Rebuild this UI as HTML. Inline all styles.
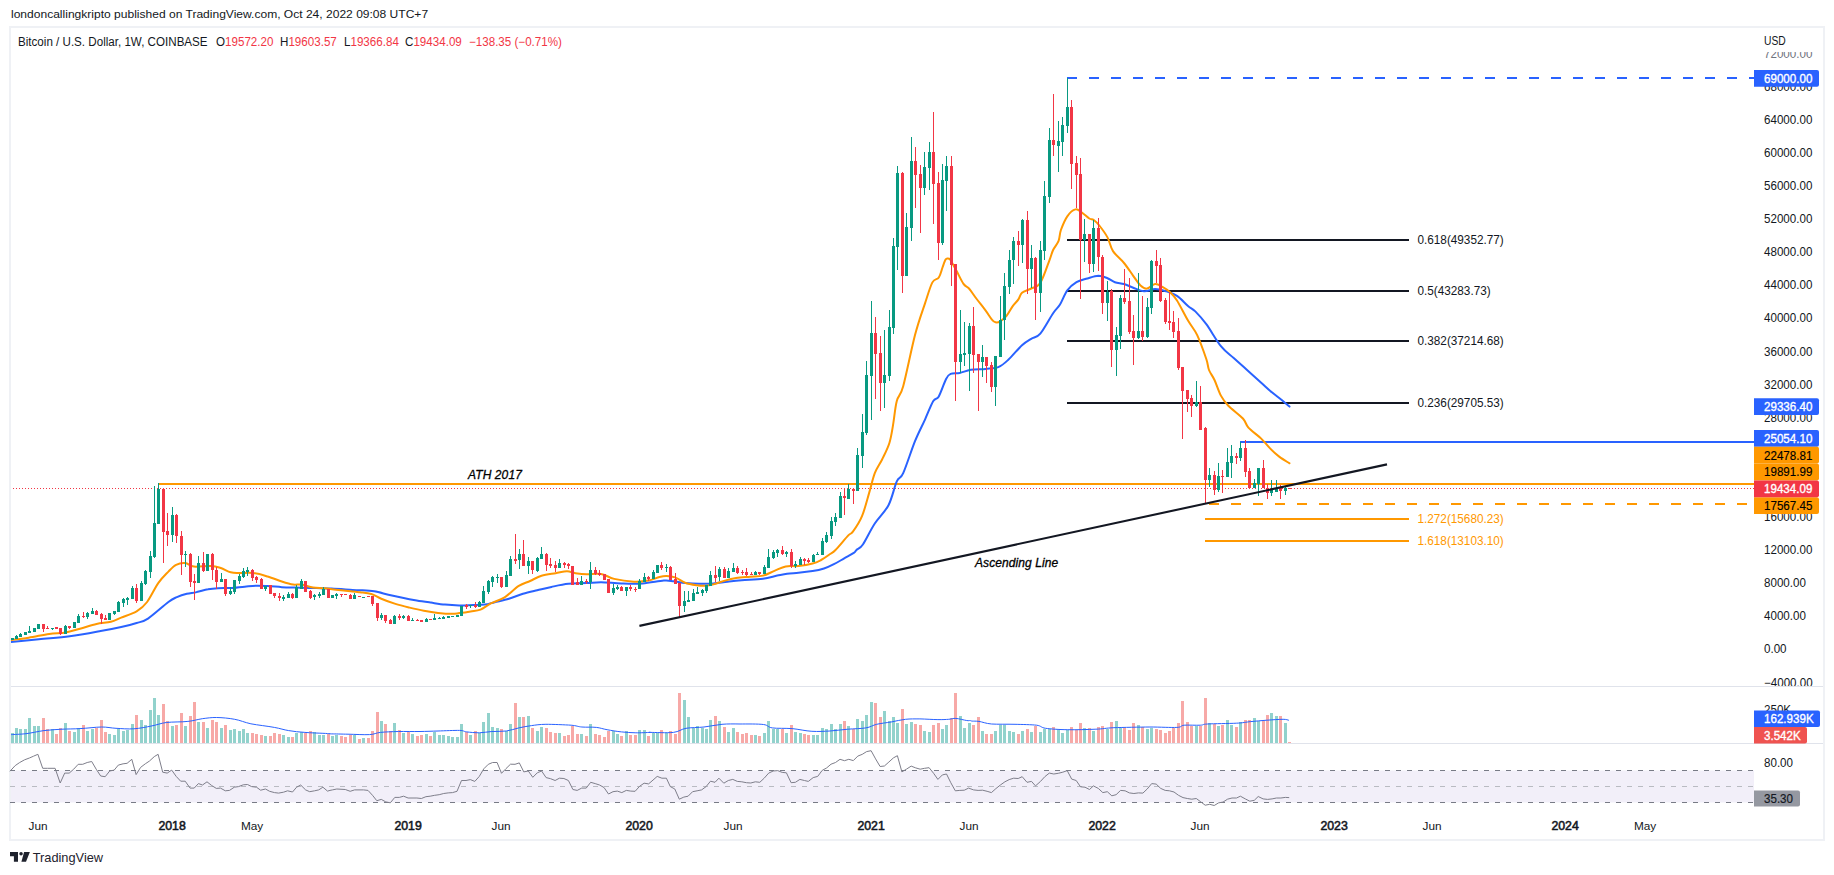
<!DOCTYPE html>
<html><head><meta charset="utf-8"><title>BTCUSD chart</title>
<style>
html,body{margin:0;padding:0;background:#fff;}
body{width:1834px;height:875px;position:relative;overflow:hidden;font-family:'Liberation Sans', Arial, sans-serif;}
.t{position:absolute;white-space:pre;color:#131722;line-height:1;}
#frame{position:absolute;left:9px;top:26px;width:1812px;height:811px;border:2px solid #eff1f5;}
</style></head><body>
<div id="frame"></div>
<div class="t" id="pub" style="left:10.6px;top:9.0px;font-size:11px;transform:scaleX(1.0945);transform-origin:0 0">londoncallingkripto published on TradingView.com, Oct 24, 2022 09:08 UTC+7</div>
<div class="t" id="ttl" style="left:18.3px;top:35.6px;font-size:12px;transform:scaleX(0.967);transform-origin:0 0">Bitcoin / U.S. Dollar, 1W, COINBASE</div>
<div class="t" style="left:216.2px;top:35.6px;font-size:12px;transform:scaleX(0.967);transform-origin:0 0">O<span style="color:#f23645">19572.20</span></div>
<div class="t" style="left:280.2px;top:35.6px;font-size:12px;transform:scaleX(0.967);transform-origin:0 0">H<span style="color:#f23645">19603.57</span></div>
<div class="t" style="left:344px;top:35.6px;font-size:12px;transform:scaleX(0.967);transform-origin:0 0">L<span style="color:#f23645">19366.84</span></div>
<div class="t" style="left:405.3px;top:35.6px;font-size:12px;transform:scaleX(0.967);transform-origin:0 0">C<span style="color:#f23645">19434.09</span></div>
<div class="t" style="left:468.8px;top:35.6px;font-size:12px;transform:scaleX(0.967);transform-origin:0 0;color:#f23645">−138.35 (−0.71%)</div>
<svg width="1834" height="875" viewBox="0 0 1834 875" font-family="'Liberation Sans', Arial, sans-serif" style="position:absolute;left:0;top:0"><rect x="11" y="770.5" width="1743" height="32" fill="#f2eff9"/>
<path d="M10 770.5H1754M10 802.5H1754" stroke="#787b86" stroke-width="1" stroke-dasharray="5 6" fill="none" shape-rendering="crispEdges"/>
<path d="M10 786.5H1754" stroke="#b9bbc2" stroke-width="1" stroke-dasharray="5 6" fill="none" shape-rendering="crispEdges"/>
<path d="M11 686.5H1823M11 743.5H1823" stroke="#e0e3eb" stroke-width="1" fill="none" shape-rendering="crispEdges"/>
<path d="M11 488.5H1754" stroke="#f23645" stroke-width="1" stroke-dasharray="1 2" stroke-dashoffset="1" fill="none" shape-rendering="crispEdges"/>
<path d="M1067 240H1409" stroke="#131722" stroke-width="2" fill="none" shape-rendering="crispEdges"/>
<path d="M1067 291H1409" stroke="#131722" stroke-width="2" fill="none" shape-rendering="crispEdges"/>
<path d="M1067 341H1409" stroke="#131722" stroke-width="2" fill="none" shape-rendering="crispEdges"/>
<path d="M1067 403H1409" stroke="#131722" stroke-width="2" fill="none" shape-rendering="crispEdges"/>
<path d="M1204.5 519H1409" stroke="#ff9800" stroke-width="2" fill="none" shape-rendering="crispEdges"/>
<path d="M1204.5 541H1409" stroke="#ff9800" stroke-width="2" fill="none" shape-rendering="crispEdges"/>
<path d="M158 484H1754" stroke="#ff9800" stroke-width="2" fill="none" shape-rendering="crispEdges"/>
<path d="M1209 504H1754" stroke="#ff9800" stroke-width="2" stroke-dasharray="10 12" fill="none" shape-rendering="crispEdges"/>
<path d="M1240 442H1754" stroke="#2962ff" stroke-width="2" fill="none" shape-rendering="crispEdges"/>
<path d="M1067 78H1754" stroke="#2962ff" stroke-width="2" stroke-dasharray="10 12" fill="none" shape-rendering="crispEdges"/>
<clipPath id="cpc"><rect x="11" y="28" width="1742" height="784"/></clipPath><g clip-path="url(#cpc)">
<path d="M10.0 642.0C14.8 641.5 28.9 640.2 38.9 639.2C48.9 638.2 59.4 637.7 69.7 636.3C80.0 634.9 92.0 632.6 100.6 631.0C109.2 629.4 115.2 628.2 121.2 626.9C127.2 625.6 132.1 624.4 136.6 623.0C141.1 621.6 142.7 622.1 148.0 618.6C153.3 615.1 163.6 605.6 168.4 602.0C173.2 598.4 173.8 598.5 176.9 597.1C180.0 595.7 183.5 594.6 186.8 593.8C190.1 593.0 193.2 592.9 196.7 592.1C200.2 591.4 204.4 589.9 208.0 589.3C211.6 588.6 214.0 588.4 218.0 588.2C222.0 588.0 227.4 588.2 232.1 587.9C236.8 587.6 242.3 586.9 246.3 586.5C250.3 586.1 252.6 585.8 256.2 585.7C259.8 585.6 263.3 585.8 267.6 586.0C271.9 586.2 277.1 586.9 281.8 587.2C286.5 587.5 291.3 587.5 296.0 587.6C300.7 587.7 304.1 587.7 310.0 587.9C315.9 588.1 324.3 588.2 331.4 588.6C338.5 589.0 347.8 589.7 352.6 590.0C357.4 590.3 356.4 590.0 360.0 590.2C363.6 590.4 369.5 590.5 374.2 591.3C378.9 592.0 383.7 593.6 388.4 594.7C393.1 595.8 397.8 596.8 402.5 597.7C407.2 598.7 412.0 599.6 416.7 600.4C421.4 601.2 426.2 601.9 430.9 602.6C435.6 603.3 440.3 604.1 445.0 604.6C449.7 605.1 454.5 605.4 459.2 605.5C463.9 605.6 469.1 605.2 473.4 605.1C477.7 605.0 481.2 605.1 484.8 604.6C488.4 604.1 490.7 603.2 494.7 602.2C498.7 601.2 504.2 600.1 508.9 598.7C513.6 597.3 518.3 595.1 523.0 593.7C527.7 592.3 532.5 591.3 537.2 590.2C541.9 589.1 546.2 588.0 551.4 586.9C556.6 585.8 562.5 584.4 568.4 583.8C574.3 583.2 581.4 583.4 586.8 583.1C592.2 582.8 595.2 582.2 601.0 582.2C606.8 582.2 614.4 583.2 621.3 583.4C628.2 583.6 635.4 583.9 642.5 583.4C649.6 582.9 658.6 581.0 663.8 580.6C669.0 580.2 670.2 580.9 673.7 581.3C677.2 581.7 680.9 582.7 685.1 583.1C689.4 583.5 694.5 583.8 699.2 583.8C703.9 583.8 708.7 583.8 713.4 583.4C718.1 583.0 722.9 582.2 727.6 581.7C732.3 581.2 735.9 580.8 741.8 580.3C747.7 579.8 757.1 579.5 763.0 578.7C768.9 577.9 773.2 576.4 777.2 575.6C781.2 574.8 783.6 574.2 787.1 573.7C790.6 573.2 794.2 573.2 798.5 572.8C802.8 572.4 808.4 571.8 812.6 571.1C816.9 570.4 820.5 569.6 824.0 568.5C827.5 567.4 830.6 565.9 833.9 564.2C837.2 562.6 840.5 560.5 843.8 558.6C847.1 556.7 851.7 554.3 853.8 552.9C855.9 551.5 855.0 551.4 856.5 550.0C858.0 548.6 859.9 548.9 862.9 544.5C865.9 540.1 870.5 530.0 874.8 523.5C879.1 517.0 884.8 512.2 888.5 505.2C892.2 498.2 894.3 486.7 896.8 481.4C899.2 476.1 900.2 479.9 903.2 473.2C906.2 466.5 911.4 450.2 915.0 441.2C918.6 432.2 922.1 426.0 925.1 419.3C928.1 412.6 931.0 404.8 933.3 401.0C935.6 397.2 936.7 400.1 938.8 396.4C940.9 392.7 944.1 382.8 946.1 379.0C948.1 375.2 948.4 374.9 950.7 373.9C953.0 372.9 956.4 373.7 959.8 373.0C963.1 372.3 966.5 370.5 970.8 369.8C975.1 369.1 980.9 369.3 985.5 368.9C990.1 368.4 994.5 368.6 998.3 367.1C1002.1 365.6 1004.3 363.5 1008.3 359.8C1012.2 356.1 1018.2 348.7 1022.0 345.2C1025.8 341.7 1028.2 340.7 1031.2 338.8C1034.2 336.9 1036.7 337.9 1040.3 333.6C1043.9 329.3 1049.8 318.1 1053.1 313.2C1056.4 308.3 1057.6 308.3 1060.0 304.5C1062.4 300.7 1064.5 294.1 1067.3 290.4C1070.0 286.7 1073.2 284.2 1076.5 282.2C1079.8 280.2 1083.8 279.6 1087.4 278.5C1091.1 277.4 1095.1 275.9 1098.4 275.8C1101.8 275.8 1104.8 277.1 1107.5 278.2C1110.2 279.3 1112.2 281.2 1114.9 282.2C1117.7 283.2 1121.0 283.1 1124.0 284.0C1127.0 284.9 1129.9 286.5 1133.2 287.7C1136.5 288.9 1140.4 291.1 1144.1 291.3C1147.8 291.5 1151.4 289.1 1155.1 289.1C1158.8 289.1 1162.4 290.2 1166.1 291.3C1169.8 292.4 1173.3 293.4 1177.0 295.9C1180.7 298.3 1185.0 303.4 1188.0 306.0C1191.0 308.6 1192.2 308.4 1195.3 311.4C1198.3 314.4 1202.0 318.4 1206.3 324.2C1210.6 330.0 1216.3 340.5 1220.9 346.2C1225.5 351.9 1229.4 354.2 1233.7 358.1C1238.0 362.0 1241.9 365.4 1246.5 369.5C1251.1 373.6 1257.2 379.2 1261.2 382.8C1265.2 386.4 1267.2 388.4 1270.3 391.0C1273.3 393.6 1276.3 395.7 1279.5 398.3C1282.7 400.9 1287.8 405.2 1289.5 406.6" stroke="#2962ff" stroke-width="2" fill="none" stroke-linejoin="round" stroke-linecap="round"/>
<path d="M10.0 640.2C13.1 639.8 22.1 638.8 28.6 637.7C35.1 636.7 43.0 634.8 49.2 633.9C55.4 633.0 60.5 633.4 65.6 632.5C70.7 631.6 74.8 630.1 80.0 628.7C85.2 627.3 91.3 625.2 96.5 624.0C101.7 622.8 106.8 622.8 110.9 621.7C115.0 620.6 116.9 619.3 121.2 617.6C125.5 615.9 132.3 614.0 136.6 611.4C140.9 608.8 143.5 606.8 147.1 602.0C150.7 597.2 154.8 588.0 158.4 582.9C162.0 577.8 165.5 574.6 168.4 571.6C171.3 568.6 173.3 566.2 176.1 564.8C178.9 563.4 182.4 562.8 185.4 563.1C188.4 563.4 189.7 566.1 193.9 566.6C198.2 567.1 206.4 565.7 210.9 565.9C215.4 566.1 217.5 566.9 220.8 568.0C224.1 569.1 227.6 571.5 230.7 572.3C233.8 573.1 235.4 572.9 239.2 573.0C243.0 573.1 248.7 572.4 253.4 573.0C258.1 573.6 262.9 575.1 267.6 576.5C272.3 577.9 277.6 580.1 281.8 581.5C286.1 582.9 289.8 584.1 293.1 584.6C296.4 585.1 298.3 584.1 301.6 584.6C304.9 585.1 309.2 586.8 313.0 587.4C316.8 588.0 320.1 587.9 324.3 588.3C328.6 588.7 333.8 589.5 338.5 590.0C343.2 590.5 349.0 591.0 352.6 591.4C356.2 591.8 356.9 591.9 360.0 592.3C363.1 592.7 367.8 592.9 371.3 594.0C374.9 595.1 377.3 597.1 381.3 598.7C385.3 600.4 390.7 602.4 395.4 603.9C400.1 605.4 404.9 606.5 409.6 607.6C414.3 608.7 419.1 609.8 423.8 610.7C428.5 611.6 433.3 612.4 438.0 612.9C442.7 613.4 448.6 613.8 452.1 613.8C455.6 613.8 456.1 613.5 459.2 613.1C462.3 612.7 467.1 612.0 470.6 611.4C474.2 610.8 477.2 610.9 480.5 609.6C483.8 608.3 486.4 605.7 490.4 603.6C494.4 601.5 499.9 600.2 504.6 597.3C509.3 594.3 514.5 588.6 518.8 585.9C523.0 583.2 526.3 582.7 530.1 581.0C533.9 579.3 537.2 577.0 541.5 575.7C545.8 574.4 551.4 573.9 555.6 573.2C559.9 572.5 563.7 571.3 567.0 571.3C570.3 571.3 572.2 572.7 575.5 573.2C578.8 573.7 582.5 574.2 586.8 574.3C591.0 574.4 596.4 573.1 601.0 573.9C605.6 574.7 608.7 577.6 614.2 578.9C619.7 580.2 628.3 581.4 634.0 581.7C639.7 582.0 644.0 581.4 648.2 580.6C652.5 579.8 656.4 577.8 659.5 577.0C662.6 576.2 664.0 575.9 666.6 576.0C669.2 576.1 672.0 576.3 675.1 577.4C678.2 578.5 681.6 581.4 685.1 582.7C688.6 584.0 693.1 584.7 696.4 585.2C699.7 585.7 702.1 585.9 704.9 585.8C707.7 585.7 710.1 585.3 713.4 584.4C716.7 583.5 721.0 581.7 724.8 580.6C728.6 579.5 731.9 578.6 736.1 578.0C740.4 577.4 745.8 577.1 750.3 576.7C754.8 576.3 759.0 576.6 763.0 575.6C767.0 574.6 770.6 572.4 774.4 570.9C778.2 569.4 781.7 567.2 785.7 566.4C789.7 565.6 794.0 566.5 798.5 566.0C803.0 565.5 808.8 564.5 812.6 563.5C816.4 562.5 818.2 561.5 821.1 560.0C824.0 558.5 827.3 556.0 829.7 554.3C832.1 552.6 832.4 553.1 835.5 550.0C838.6 546.9 845.4 538.4 848.3 535.4C851.2 532.4 850.6 534.9 852.9 531.7C855.2 528.5 859.3 522.8 862.0 516.2C864.7 509.7 867.2 499.6 869.3 492.4C871.4 485.2 872.7 478.7 874.8 473.2C876.9 467.7 879.7 464.5 882.1 459.5C884.5 454.5 887.6 448.8 889.4 443.0C891.2 437.2 891.9 431.7 893.1 424.7C894.3 417.7 895.1 407.4 896.8 401.0C898.5 394.6 900.2 397.3 903.2 386.3C906.2 375.3 911.4 349.0 915.0 335.1C918.6 321.2 922.2 311.9 925.1 303.1C928.0 294.3 930.1 286.7 932.4 282.4C934.7 278.1 937.1 280.0 938.8 277.5C940.5 275.0 941.4 270.5 942.5 267.5C943.6 264.5 944.7 261.1 945.6 259.6C946.5 258.1 947.1 258.6 947.9 258.6C948.7 258.6 949.4 258.6 950.2 259.6C951.1 260.6 952.0 262.7 953.0 264.5C954.0 266.3 954.5 267.0 956.2 270.2C958.0 273.4 961.4 280.8 963.5 283.9C965.6 286.9 966.9 286.1 969.0 288.5C971.1 290.9 973.5 294.9 976.3 298.5C979.0 302.1 982.9 306.9 985.5 310.4C988.1 313.9 990.2 317.6 991.9 319.6C993.6 321.6 994.1 322.0 995.5 322.3C996.9 322.6 998.3 322.5 1000.1 321.4C1001.9 320.3 1004.4 318.5 1006.5 315.9C1008.6 313.3 1010.9 308.6 1012.9 305.8C1014.9 303.1 1016.9 301.6 1018.4 299.4C1019.9 297.2 1019.9 294.5 1022.0 292.7C1024.1 290.9 1028.2 290.1 1031.2 288.5C1034.2 286.9 1037.2 287.7 1040.3 283.0C1043.3 278.3 1047.4 265.6 1049.5 260.1C1051.6 254.6 1051.6 253.2 1053.1 250.0C1054.6 246.8 1057.3 244.2 1058.6 240.9C1059.9 237.6 1059.5 234.1 1060.9 230.0C1062.4 225.9 1064.9 219.7 1067.3 216.3C1069.7 212.9 1073.1 210.0 1075.5 209.4C1077.9 208.8 1079.6 211.1 1081.9 212.6C1084.2 214.1 1087.3 217.3 1089.3 218.5C1091.3 219.7 1092.1 218.8 1093.8 220.0C1095.5 221.2 1097.0 222.6 1099.3 225.5C1101.6 228.4 1105.2 233.1 1107.5 237.4C1109.8 241.7 1110.2 246.8 1113.0 251.1C1115.8 255.4 1120.6 258.9 1124.0 263.0C1127.4 267.1 1130.5 272.1 1133.2 275.8C1136.0 279.6 1138.2 283.4 1140.5 285.5C1142.8 287.6 1144.5 288.9 1146.9 288.6C1149.3 288.4 1152.5 284.3 1155.1 284.0C1157.7 283.7 1160.0 285.5 1162.4 286.8C1164.8 288.1 1167.3 289.6 1169.7 291.9C1172.1 294.2 1174.0 295.7 1177.0 300.5C1180.0 305.3 1184.6 314.8 1188.0 320.6C1191.4 326.4 1194.2 328.8 1197.2 335.2C1200.2 341.6 1204.3 353.2 1206.3 359.0C1208.3 364.8 1207.6 366.5 1209.0 370.0C1210.4 373.5 1212.5 375.7 1214.5 380.0C1216.5 384.3 1218.6 391.3 1220.9 395.6C1223.2 399.9 1224.6 401.9 1228.3 405.7C1232.0 409.5 1239.6 414.9 1242.9 418.5C1246.2 422.1 1245.4 424.2 1248.4 427.6C1251.5 431.0 1257.6 435.1 1261.2 438.6C1264.8 442.1 1267.2 445.6 1270.3 448.6C1273.3 451.7 1276.3 454.4 1279.5 456.9C1282.7 459.3 1287.8 462.2 1289.5 463.3" stroke="#ff9800" stroke-width="2" fill="none" stroke-linejoin="round" stroke-linecap="round"/>
</g>
<path d="M12.5 638V640M16.5 635V639M20.5 633V637M25.5 632V635M29.5 626V633M34.5 628V632M38.5 624V629M52.5 628V630M65.5 625V634M74.5 622V628M78.5 614V623M87.5 612V619M92.5 608V614M109.5 613V620M114.5 611V615M118.5 601V612M123.5 598V607M127.5 597V605M132.5 586V599M141.5 581V601M145.5 570V585M150.5 551V578M154.5 486V558M158.5 483V524M172.5 507V542M185.5 551V567M198.5 556V583M207.5 554V571M221.5 573V582M230.5 587V595M234.5 580V594M239.5 574V584M243.5 568V578M247.5 567V576M265.5 586V591M283.5 595V601M288.5 592V598M296.5 585V598M301.5 579V589M314.5 594V600M319.5 592V598M323.5 587V595M332.5 595V598M336.5 593V599M354.5 593V599M363.5 597V598M381.5 613V620M394.5 615V624M403.5 615V619M412.5 618V621M426.5 618V622M434.5 614V620M439.5 617V619M443.5 616V619M448.5 616V618M452.5 616V617M457.5 615V617M461.5 606V616M470.5 605V608M479.5 601V607M483.5 586V603M488.5 580V594M492.5 576V587M497.5 574V583M506.5 571V587M510.5 556V576M519.5 549V569M528.5 557V574M537.5 557V572M541.5 547V559M559.5 559V568M581.5 576V585M590.5 562V589M613.5 584V595M617.5 585V590M626.5 587V596M639.5 579V589M644.5 573V582M653.5 570V579M657.5 565V573M666.5 564V572M684.5 591V612M688.5 591V602M693.5 589V601M697.5 587V594M702.5 589V596M706.5 585V593M710.5 571V586M719.5 567V581M728.5 568V578M733.5 563V572M755.5 571V575M764.5 565V574M768.5 549V568M773.5 550V559M777.5 549V557M786.5 551V557M795.5 561V568M800.5 557V565M813.5 554V562M817.5 552V555M822.5 538V555M826.5 532V543M831.5 517V539M835.5 513V526M840.5 492V518M848.5 484V499M857.5 448V491M862.5 414V468M866.5 361V435M871.5 301V420M884.5 330V408M889.5 310V381M893.5 238V334M897.5 166V270M906.5 213V276M911.5 137V241M924.5 152V195M929.5 142V190M942.5 164V245M946.5 156V211M960.5 310V373M964.5 322V366M969.5 323V391M982.5 345V377M995.5 356V406M1000.5 296V357M1004.5 273V340M1009.5 250V294M1013.5 237V284M1022.5 219V263M1031.5 245V288M1040.5 241V312M1044.5 181V260M1049.5 128V203M1058.5 121V172M1062.5 117V156M1067.5 78V133M1084.5 219V262M1093.5 220V272M1107.5 281V321M1116.5 327V376M1120.5 295V349M1138.5 273V339M1147.5 298V338M1151.5 260V314M1196.5 381V407M1209.5 468V487M1218.5 463V492M1227.5 448V477M1231.5 445V478M1240.5 442V461M1254.5 479V488M1258.5 468V496M1271.5 480V496M1276.5 480V492M1285.5 486V495" stroke="#089981" stroke-width="1" fill="none" shape-rendering="crispEdges"/>
<path d="M43.5 624V632M47.5 626V629M56.5 627V629M60.5 628V635M69.5 626V629M83.5 612V618M96.5 610V615M101.5 613V624M105.5 615V620M136.5 584V603M163.5 488V563M167.5 513V546M176.5 514V543M181.5 531V575M190.5 553V587M194.5 574V600M203.5 552V572M212.5 553V580M216.5 567V589M225.5 579V596M252.5 569V581M256.5 576V583M261.5 578V589M270.5 585V594M274.5 593V598M279.5 593V601M292.5 593V599M305.5 581V592M310.5 590V599M328.5 589V598M341.5 594V597M345.5 594V595M350.5 594V599M359.5 596V597M368.5 596V597M372.5 596V606M377.5 603V621M385.5 615V623M390.5 619V624M399.5 614V620M408.5 615V621M417.5 619V621M421.5 620V622M430.5 619V620M466.5 604V609M475.5 602V608M501.5 577V588M515.5 534V564M523.5 540V566M532.5 561V574M546.5 553V571M550.5 558V568M555.5 561V572M564.5 562V568M568.5 563V569M572.5 566V585M577.5 578V585M586.5 579V584M595.5 567V575M599.5 570V576M604.5 574V580M608.5 579V593M621.5 586V591M630.5 585V591M635.5 587V592M648.5 576V581M661.5 562V570M670.5 566V580M675.5 573V584M679.5 583V617M715.5 566V582M724.5 567V578M737.5 566V574M742.5 570V575M746.5 568V576M751.5 572V575M759.5 572V575M782.5 546V555M791.5 549V568M804.5 558V565M808.5 558V563M844.5 488V515M853.5 489V504M875.5 317V399M880.5 336V411M902.5 172V293M915.5 147V208M920.5 165V233M933.5 112V224M938.5 172V260M951.5 156V286M955.5 264V401M973.5 307V373M978.5 354V411M986.5 357V383M991.5 362V392M1018.5 231V266M1027.5 211V294M1035.5 257V320M1053.5 94V156M1071.5 100V189M1076.5 156V208M1080.5 158V299M1089.5 234V273M1098.5 218V271M1102.5 255V314M1111.5 289V367M1124.5 269V304M1129.5 278V334M1133.5 315V365M1142.5 296V341M1156.5 250V283M1160.5 258V302M1165.5 298V324M1169.5 292V330M1173.5 311V338M1178.5 318V370M1182.5 367V439M1187.5 390V412M1191.5 395V417M1200.5 386V430M1205.5 427V504M1214.5 471V495M1222.5 470V493M1236.5 453V464M1245.5 440V477M1249.5 468V488M1263.5 460V488M1267.5 484V499M1280.5 485V499M1289.5 488V489" stroke="#f23645" stroke-width="1" fill="none" shape-rendering="crispEdges"/>
<path d="M11 638h3v2h-3zM15 636h3v3h-3zM19 634h3v3h-3zM24 632h3v3h-3zM28 631h3v2h-3zM33 628h3v4h-3zM37 624h3v5h-3zM51 628h3v1h-3zM64 626h3v8h-3zM73 622h3v6h-3zM77 616h3v7h-3zM86 613h3v4h-3zM91 611h3v3h-3zM108 613h3v7h-3zM113 611h3v3h-3zM117 602h3v10h-3zM122 599h3v4h-3zM126 598h3v2h-3zM131 588h3v11h-3zM140 583h3v18h-3zM144 571h3v13h-3zM149 556h3v16h-3zM153 523h3v34h-3zM157 489h3v35h-3zM171 515h3v20h-3zM184 554h3v1h-3zM197 563h3v20h-3zM206 554h3v17h-3zM220 579h3v3h-3zM229 591h3v3h-3zM233 580h3v12h-3zM238 576h3v5h-3zM242 571h3v6h-3zM246 570h3v2h-3zM264 586h3v3h-3zM282 597h3v2h-3zM287 594h3v4h-3zM295 587h3v11h-3zM300 581h3v8h-3zM313 595h3v2h-3zM318 594h3v2h-3zM322 589h3v6h-3zM331 595h3v3h-3zM335 594h3v2h-3zM353 595h3v4h-3zM362 597h3v1h-3zM380 615h3v3h-3zM393 616h3v8h-3zM402 616h3v2h-3zM411 620h3v1h-3zM425 619h3v3h-3zM433 618h3v2h-3zM438 618h3v1h-3zM442 617h3v2h-3zM447 616h3v2h-3zM451 616h3v1h-3zM456 615h3v2h-3zM460 606h3v10h-3zM469 605h3v1h-3zM478 602h3v5h-3zM482 591h3v12h-3zM487 581h3v11h-3zM491 577h3v5h-3zM496 577h3v1h-3zM505 575h3v12h-3zM509 559h3v17h-3zM518 554h3v6h-3zM527 561h3v5h-3zM536 558h3v13h-3zM540 554h3v5h-3zM558 563h3v5h-3zM580 581h3v4h-3zM589 570h3v12h-3zM612 588h3v5h-3zM616 587h3v2h-3zM625 587h3v4h-3zM638 581h3v8h-3zM643 577h3v5h-3zM652 572h3v7h-3zM656 565h3v8h-3zM665 567h3v1h-3zM683 601h3v5h-3zM687 600h3v2h-3zM692 593h3v8h-3zM696 592h3v2h-3zM701 590h3v3h-3zM705 585h3v6h-3zM709 575h3v11h-3zM718 569h3v8h-3zM727 571h3v7h-3zM732 568h3v4h-3zM754 572h3v3h-3zM763 567h3v7h-3zM767 557h3v11h-3zM772 552h3v6h-3zM776 550h3v3h-3zM785 552h3v2h-3zM794 564h3v2h-3zM799 559h3v6h-3zM812 555h3v7h-3zM816 554h3v1h-3zM821 541h3v14h-3zM825 535h3v7h-3zM830 521h3v15h-3zM834 517h3v5h-3zM839 496h3v22h-3zM847 489h3v10h-3zM856 455h3v36h-3zM861 432h3v24h-3zM865 375h3v58h-3zM870 333h3v43h-3zM883 375h3v8h-3zM888 327h3v49h-3zM892 246h3v82h-3zM896 173h3v74h-3zM905 227h3v49h-3zM910 161h3v67h-3zM923 167h3v21h-3zM928 152h3v16h-3zM941 180h3v63h-3zM945 166h3v15h-3zM959 354h3v8h-3zM963 353h3v2h-3zM968 326h3v28h-3zM981 357h3v5h-3zM994 356h3v31h-3zM999 320h3v37h-3zM1003 286h3v34h-3zM1008 260h3v27h-3zM1012 241h3v19h-3zM1021 220h3v25h-3zM1030 258h3v11h-3zM1039 250h3v43h-3zM1043 196h3v55h-3zM1048 140h3v57h-3zM1057 141h3v5h-3zM1061 125h3v17h-3zM1066 107h3v19h-3zM1083 234h3v6h-3zM1092 228h3v36h-3zM1106 292h3v11h-3zM1115 335h3v15h-3zM1119 298h3v38h-3zM1137 331h3v7h-3zM1146 307h3v30h-3zM1150 261h3v47h-3zM1195 402h3v4h-3zM1208 475h3v5h-3zM1217 476h3v14h-3zM1226 462h3v15h-3zM1230 456h3v7h-3zM1239 448h3v10h-3zM1253 483h3v5h-3zM1257 468h3v16h-3zM1270 490h3v3h-3zM1275 488h3v4h-3zM1284 488h3v3h-3z" fill="#089981" shape-rendering="crispEdges"/>
<path d="M42 624h3v5h-3zM46 628h3v1h-3zM55 627h3v2h-3zM59 628h3v6h-3zM68 626h3v2h-3zM82 616h3v1h-3zM95 611h3v4h-3zM100 614h3v5h-3zM104 618h3v2h-3zM135 588h3v13h-3zM162 489h3v43h-3zM166 531h3v4h-3zM175 515h3v21h-3zM180 536h3v19h-3zM189 554h3v28h-3zM193 581h3v2h-3zM202 563h3v8h-3zM211 554h3v16h-3zM215 570h3v12h-3zM224 579h3v15h-3zM251 570h3v8h-3zM255 577h3v3h-3zM260 579h3v10h-3zM269 585h3v9h-3zM273 593h3v3h-3zM278 596h3v2h-3zM291 594h3v4h-3zM304 581h3v11h-3zM309 591h3v7h-3zM327 589h3v9h-3zM340 594h3v1h-3zM344 594h3v1h-3zM349 595h3v4h-3zM358 596h3v1h-3zM367 596h3v1h-3zM371 596h3v8h-3zM376 603h3v15h-3zM384 615h3v6h-3zM389 620h3v4h-3zM398 616h3v2h-3zM407 616h3v5h-3zM416 620h3v1h-3zM420 620h3v2h-3zM429 619h3v1h-3zM465 605h3v2h-3zM474 605h3v2h-3zM500 577h3v10h-3zM514 559h3v2h-3zM522 554h3v12h-3zM531 561h3v9h-3zM545 554h3v11h-3zM549 564h3v2h-3zM554 565h3v3h-3zM563 563h3v2h-3zM567 564h3v2h-3zM571 566h3v19h-3zM576 582h3v3h-3zM585 581h3v1h-3zM594 570h3v4h-3zM598 573h3v2h-3zM603 574h3v6h-3zM607 579h3v14h-3zM620 587h3v4h-3zM629 587h3v2h-3zM634 589h3v1h-3zM647 577h3v2h-3zM660 565h3v3h-3zM669 567h3v13h-3zM674 579h3v5h-3zM678 583h3v23h-3zM714 575h3v3h-3zM723 569h3v9h-3zM736 568h3v5h-3zM741 572h3v1h-3zM745 572h3v3h-3zM750 574h3v1h-3zM758 572h3v2h-3zM781 550h3v4h-3zM790 552h3v14h-3zM803 559h3v2h-3zM807 560h3v2h-3zM843 496h3v2h-3zM852 489h3v2h-3zM874 333h3v21h-3zM879 353h3v30h-3zM901 173h3v103h-3zM914 161h3v14h-3zM919 174h3v14h-3zM932 152h3v32h-3zM937 183h3v60h-3zM950 166h3v99h-3zM954 264h3v98h-3zM972 326h3v29h-3zM977 354h3v8h-3zM985 357h3v9h-3zM990 365h3v22h-3zM1017 241h3v4h-3zM1026 220h3v49h-3zM1034 258h3v35h-3zM1052 140h3v5h-3zM1070 107h3v57h-3zM1075 163h3v12h-3zM1079 174h3v66h-3zM1088 234h3v30h-3zM1097 228h3v29h-3zM1101 257h3v46h-3zM1110 291h3v59h-3zM1123 298h3v4h-3zM1128 301h3v31h-3zM1132 331h3v7h-3zM1141 331h3v6h-3zM1155 261h3v5h-3zM1159 265h3v36h-3zM1164 300h3v22h-3zM1168 321h3v2h-3zM1172 322h3v10h-3zM1177 331h3v37h-3zM1181 367h3v24h-3zM1186 390h3v9h-3zM1190 398h3v8h-3zM1199 402h3v28h-3zM1204 428h3v52h-3zM1213 475h3v15h-3zM1221 476h3v1h-3zM1235 456h3v2h-3zM1244 448h3v24h-3zM1248 471h3v17h-3zM1262 468h3v20h-3zM1266 488h3v5h-3zM1279 488h3v3h-3zM1288 488h3v1h-3z" fill="#f23645" shape-rendering="crispEdges"/>
<path d="M639.4 625.9L1387 464.4" stroke="#131722" stroke-width="2.1" fill="none"/>
<path d="M11 733h3v10h-3zM15 728h3v15h-3zM19 729h3v14h-3zM24 729h3v14h-3zM28 718h3v25h-3zM33 726h3v17h-3zM37 726h3v17h-3zM51 729h3v14h-3zM64 723h3v20h-3zM73 732h3v11h-3zM77 728h3v15h-3zM86 731h3v12h-3zM91 729h3v14h-3zM108 734h3v9h-3zM113 735h3v8h-3zM117 729h3v14h-3zM122 731h3v12h-3zM126 730h3v13h-3zM131 724h3v19h-3zM140 720h3v23h-3zM144 725h3v18h-3zM149 710h3v33h-3zM153 698h3v45h-3zM157 715h3v28h-3zM171 726h3v17h-3zM184 726h3v17h-3zM197 722h3v21h-3zM206 728h3v15h-3zM220 728h3v15h-3zM229 730h3v13h-3zM233 729h3v14h-3zM238 731h3v12h-3zM242 729h3v14h-3zM246 733h3v10h-3zM264 736h3v7h-3zM282 735h3v8h-3zM287 737h3v6h-3zM295 733h3v10h-3zM300 732h3v11h-3zM313 732h3v11h-3zM318 735h3v8h-3zM322 735h3v8h-3zM331 736h3v7h-3zM335 735h3v8h-3zM353 735h3v8h-3zM362 738h3v5h-3zM380 721h3v22h-3zM393 723h3v20h-3zM402 733h3v10h-3zM411 734h3v9h-3zM425 734h3v9h-3zM433 732h3v11h-3zM438 735h3v8h-3zM442 735h3v8h-3zM447 736h3v7h-3zM451 737h3v6h-3zM456 737h3v6h-3zM460 724h3v19h-3zM469 735h3v8h-3zM478 733h3v10h-3zM482 722h3v21h-3zM487 713h3v30h-3zM491 727h3v16h-3zM496 728h3v15h-3zM505 731h3v12h-3zM509 724h3v19h-3zM518 717h3v26h-3zM527 716h3v27h-3zM536 731h3v12h-3zM540 727h3v16h-3zM558 733h3v10h-3zM580 734h3v9h-3zM589 724h3v19h-3zM612 731h3v12h-3zM616 734h3v9h-3zM625 731h3v12h-3zM638 730h3v13h-3zM643 730h3v13h-3zM652 733h3v10h-3zM656 733h3v10h-3zM665 733h3v10h-3zM683 700h3v43h-3zM687 717h3v26h-3zM692 728h3v15h-3zM696 726h3v17h-3zM701 728h3v15h-3zM705 729h3v14h-3zM709 720h3v23h-3zM718 721h3v22h-3zM727 732h3v11h-3zM732 728h3v15h-3zM754 735h3v8h-3zM763 733h3v10h-3zM767 721h3v22h-3zM772 729h3v14h-3zM776 729h3v14h-3zM785 733h3v10h-3zM794 732h3v11h-3zM799 733h3v10h-3zM812 735h3v8h-3zM816 735h3v8h-3zM821 728h3v15h-3zM825 729h3v14h-3zM830 724h3v19h-3zM834 729h3v14h-3zM839 724h3v19h-3zM847 726h3v17h-3zM856 719h3v24h-3zM861 721h3v22h-3zM865 715h3v28h-3zM870 702h3v41h-3zM883 711h3v32h-3zM888 721h3v22h-3zM892 717h3v26h-3zM896 723h3v20h-3zM905 724h3v19h-3zM910 722h3v21h-3zM923 731h3v12h-3zM928 732h3v11h-3zM941 729h3v14h-3zM945 725h3v18h-3zM959 716h3v27h-3zM963 728h3v15h-3zM968 723h3v20h-3zM981 731h3v12h-3zM994 731h3v12h-3zM999 725h3v18h-3zM1003 725h3v18h-3zM1008 731h3v12h-3zM1012 732h3v11h-3zM1021 731h3v12h-3zM1030 732h3v11h-3zM1039 732h3v11h-3zM1043 729h3v14h-3zM1048 729h3v14h-3zM1057 730h3v13h-3zM1061 733h3v10h-3zM1066 730h3v13h-3zM1083 728h3v15h-3zM1092 731h3v12h-3zM1106 729h3v14h-3zM1115 721h3v22h-3zM1119 728h3v15h-3zM1137 725h3v18h-3zM1146 729h3v14h-3zM1150 728h3v15h-3zM1195 726h3v17h-3zM1208 723h3v20h-3zM1217 726h3v17h-3zM1226 720h3v23h-3zM1230 725h3v18h-3zM1239 722h3v21h-3zM1253 718h3v25h-3zM1257 721h3v22h-3zM1270 713h3v30h-3zM1275 716h3v27h-3zM1284 723h3v20h-3z" fill="#92d2cc" shape-rendering="crispEdges"/>
<path d="M42 718h3v25h-3zM46 729h3v14h-3zM55 734h3v9h-3zM59 728h3v15h-3zM68 731h3v12h-3zM82 725h3v18h-3zM95 728h3v15h-3zM100 720h3v23h-3zM104 732h3v11h-3zM135 715h3v28h-3zM162 704h3v39h-3zM166 721h3v22h-3zM175 725h3v18h-3zM180 713h3v30h-3zM189 716h3v27h-3zM193 702h3v41h-3zM202 722h3v21h-3zM211 720h3v23h-3zM215 722h3v21h-3zM224 725h3v18h-3zM251 733h3v10h-3zM255 734h3v9h-3zM260 735h3v8h-3zM269 736h3v7h-3zM273 733h3v10h-3zM278 734h3v9h-3zM291 737h3v6h-3zM304 733h3v10h-3zM309 731h3v12h-3zM327 734h3v9h-3zM340 736h3v7h-3zM344 737h3v6h-3zM349 735h3v8h-3zM358 739h3v4h-3zM367 738h3v5h-3zM371 731h3v12h-3zM376 712h3v31h-3zM384 724h3v19h-3zM389 731h3v12h-3zM398 730h3v13h-3zM407 732h3v11h-3zM416 736h3v7h-3zM420 735h3v8h-3zM429 736h3v7h-3zM465 732h3v11h-3zM474 731h3v12h-3zM500 729h3v14h-3zM514 703h3v40h-3zM522 717h3v26h-3zM531 728h3v15h-3zM545 728h3v15h-3zM549 732h3v11h-3zM554 733h3v10h-3zM563 736h3v7h-3zM567 735h3v8h-3zM571 726h3v17h-3zM576 734h3v9h-3zM585 736h3v7h-3zM594 734h3v9h-3zM598 735h3v8h-3zM603 737h3v6h-3zM607 731h3v12h-3zM620 736h3v7h-3zM629 735h3v8h-3zM634 735h3v8h-3zM647 736h3v7h-3zM660 730h3v13h-3zM669 731h3v12h-3zM674 734h3v9h-3zM678 693h3v50h-3zM714 716h3v27h-3zM723 727h3v16h-3zM736 732h3v11h-3zM741 734h3v9h-3zM745 733h3v10h-3zM750 735h3v8h-3zM758 736h3v7h-3zM781 729h3v14h-3zM790 725h3v18h-3zM803 734h3v9h-3zM807 735h3v8h-3zM843 721h3v22h-3zM852 729h3v14h-3zM874 703h3v40h-3zM879 717h3v26h-3zM901 709h3v34h-3zM914 724h3v19h-3zM919 725h3v18h-3zM932 725h3v18h-3zM937 723h3v20h-3zM950 718h3v25h-3zM954 693h3v50h-3zM972 725h3v18h-3zM977 717h3v26h-3zM985 734h3v9h-3zM990 734h3v9h-3zM1017 734h3v9h-3zM1026 729h3v14h-3zM1034 726h3v17h-3zM1052 727h3v16h-3zM1070 727h3v16h-3zM1075 730h3v13h-3zM1079 723h3v20h-3zM1088 728h3v15h-3zM1097 727h3v16h-3zM1101 726h3v17h-3zM1110 722h3v21h-3zM1123 728h3v15h-3zM1128 730h3v13h-3zM1132 723h3v20h-3zM1141 727h3v16h-3zM1155 729h3v14h-3zM1159 730h3v13h-3zM1164 733h3v10h-3zM1168 731h3v12h-3zM1172 728h3v15h-3zM1177 723h3v20h-3zM1181 701h3v42h-3zM1186 722h3v21h-3zM1190 726h3v17h-3zM1199 726h3v17h-3zM1204 698h3v45h-3zM1213 724h3v19h-3zM1221 725h3v18h-3zM1235 727h3v16h-3zM1244 720h3v23h-3zM1248 720h3v23h-3zM1262 721h3v22h-3zM1266 715h3v28h-3zM1279 716h3v27h-3zM1288 742h3v1h-3z" fill="#f7a9a7" shape-rendering="crispEdges"/>
<path d="M11.6 734.6C14.0 734.4 20.6 734.3 26.0 733.7C31.4 733.0 38.0 731.4 44.0 730.6C50.0 729.9 56.0 729.5 62.0 729.2C68.0 728.9 73.4 729.0 80.0 728.6C86.6 728.3 95.6 727.1 101.6 727.0C107.6 727.0 110.6 728.0 116.0 728.3C121.4 728.6 127.9 729.2 133.9 728.8C139.9 728.4 146.5 727.0 151.9 725.9C157.3 724.9 160.3 723.3 166.3 722.5C172.3 721.8 181.9 722.1 187.9 721.4C193.9 720.8 197.5 719.4 202.3 718.7C207.1 718.1 211.3 717.4 216.7 717.5C222.1 717.6 229.0 718.2 234.7 719.3C240.4 720.3 244.3 722.4 250.9 723.8C257.5 725.1 268.0 726.2 274.3 727.4C280.6 728.5 283.6 729.8 288.7 730.6C293.8 731.5 299.2 732.0 304.9 732.4C310.6 732.9 318.7 733.1 322.9 733.3C327.0 733.5 328.5 733.6 330.0 733.7C331.5 733.8 328.9 733.8 331.9 733.9C334.9 733.9 341.7 734.1 348.0 734.2C354.3 734.3 364.2 734.9 369.6 734.6C375.0 734.3 375.6 732.9 380.4 732.4C385.2 731.9 391.8 731.7 398.4 731.5C405.0 731.4 413.4 731.6 420.0 731.5C426.6 731.4 431.4 731.2 438.0 731.0C444.5 730.8 454.7 730.3 459.5 730.4C464.3 730.6 463.4 731.5 466.7 731.9C470.0 732.3 475.1 732.8 479.3 732.8C483.5 732.7 487.4 731.8 491.9 731.5C496.4 731.2 501.8 731.6 506.3 731.0C510.8 730.4 514.7 728.8 518.9 727.9C523.1 727.0 527.0 726.2 531.5 725.6C536.0 725.0 539.3 724.4 545.9 724.3C552.5 724.3 565.1 724.8 571.1 725.2C577.1 725.7 577.7 726.7 581.9 727.0C586.1 727.4 592.1 726.9 596.3 727.4C600.5 727.8 602.9 729.0 607.1 729.7C611.3 730.5 616.7 731.4 621.5 731.9C626.3 732.4 631.1 732.7 635.9 732.8C640.6 732.9 647.6 732.5 650.0 732.4C652.4 732.4 646.4 732.4 650.3 732.4C654.2 732.4 667.4 733.1 673.4 732.4C679.3 731.7 680.9 729.2 686.0 728.3C691.1 727.4 698.0 727.7 704.0 727.0C710.0 726.4 716.0 724.8 722.0 724.3C728.0 723.8 733.1 723.9 740.0 724.0C746.9 724.0 758.0 723.8 763.4 724.5C768.7 725.2 767.5 727.2 772.3 727.9C777.1 728.6 785.5 728.1 792.1 728.6C798.7 729.2 805.6 731.0 811.9 731.3C818.2 731.7 823.9 731.3 829.9 731.0C835.9 730.6 841.9 729.7 847.9 729.2C853.9 728.7 861.1 728.7 865.9 727.9C870.7 727.1 872.5 725.3 876.7 724.3C880.9 723.3 886.3 722.8 891.1 722.0C895.9 721.1 900.7 719.8 905.5 719.3C910.3 718.8 914.5 718.9 919.9 718.9C925.3 719.0 933.1 719.6 937.9 719.6C942.7 719.7 945.7 719.5 948.7 719.3C951.7 719.1 952.9 718.2 955.9 718.4C958.9 718.6 964.3 720.2 966.7 720.5C969.0 720.9 969.1 720.5 970.0 720.5C970.9 720.6 970.6 720.9 972.1 721.1C973.6 721.2 975.7 721.0 979.0 721.4C982.3 721.9 985.6 723.5 991.6 724.0C997.6 724.4 1007.5 724.1 1015.0 724.3C1022.5 724.5 1031.5 724.6 1036.6 725.2C1041.7 725.9 1040.5 727.5 1045.6 728.3C1050.7 729.0 1058.8 729.6 1067.2 729.7C1075.6 729.9 1088.1 729.5 1095.9 729.2C1103.7 728.9 1104.9 728.1 1113.9 727.7C1122.9 727.4 1139.4 727.1 1149.9 727.0C1160.4 727.0 1171.2 727.7 1176.9 727.4C1182.6 727.1 1180.2 725.6 1184.1 725.2C1188.0 724.9 1196.4 725.4 1200.3 725.2C1204.2 725.0 1201.5 724.3 1207.5 724.0C1213.5 723.6 1229.1 723.6 1236.3 723.2C1243.5 722.9 1245.6 722.1 1250.7 721.6C1255.8 721.1 1261.5 720.6 1266.9 720.2C1272.3 719.8 1279.5 719.3 1283.1 719.3C1286.7 719.3 1287.6 720.0 1288.5 720.2" stroke="#2962ff" stroke-width="1" fill="none" stroke-linejoin="round" stroke-linecap="round"/>
<path d="M10.2 771.0L15.2 765.6L19.7 762.5L24.6 759.8L29.4 758.0L33.5 756.2L37.9 754.3L42.7 768.3L47.6 768.3L55.1 768.3L60.2 783.0L64.7 773.1L69.2 773.1L73.7 769.2L78.2 764.3L82.7 764.3L87.2 762.5L91.7 761.5L96.2 769.2L100.7 776.0L105.2 776.7L109.7 771.0L114.2 770.1L118.3 765.1L123.1 763.8L127.1 763.3L131.8 759.3L136.1 774.6L140.6 767.4L145.3 763.8L149.4 761.1L154.3 756.6L158.1 754.3L162.7 772.2L167.2 773.1L171.7 770.1L176.2 776.4L180.7 781.2L185.2 781.2L190.1 788.1L194.2 788.1L198.4 783.6L202.5 785.0L207.0 781.8L211.5 785.4L216.3 788.4L220.5 788.1L225.3 790.8L229.5 790.4L234.3 787.2L238.5 786.6L243.3 784.8L247.5 784.5L251.6 786.6L256.5 787.2L260.6 790.2L265.5 789.0L269.6 791.3L274.5 792.6L278.6 793.1L283.5 792.2L287.6 790.8L292.5 792.0L296.6 787.2L300.7 785.0L305.6 789.9L309.7 791.7L314.6 790.8L318.7 789.9L322.9 787.2L327.5 791.1L330.0 790.4L332.4 789.9L336.8 789.0L345.3 789.5L350.2 791.3L354.6 789.9L363.5 789.9L368.0 790.4L372.5 795.3L376.8 800.7L381.3 799.4L385.8 801.9L390.3 802.8L394.8 797.4L399.3 797.4L403.6 796.2L408.1 798.0L416.9 798.0L421.4 798.5L425.9 796.7L430.2 796.2L434.7 795.3L439.2 794.7L443.7 793.5L448.2 792.9L452.5 792.6L457.0 791.3L461.5 780.5L466.0 780.5L470.3 779.6L474.8 781.4L479.3 776.4L483.8 768.8L488.3 764.3L492.6 762.5L497.1 762.5L501.5 773.3L506.0 768.6L510.5 764.2L515.0 764.3L519.3 762.9L523.8 771.9L528.3 771.0L532.8 777.3L537.3 772.8L541.6 771.0L546.1 777.6L550.6 778.7L555.1 780.5L559.4 778.2L563.9 778.5L568.4 780.5L572.9 789.5L577.2 790.4L581.7 788.1L586.2 788.1L590.7 782.3L595.2 783.6L599.5 785.0L604.0 787.5L608.5 794.0L613.0 791.7L617.3 791.1L621.8 792.6L626.3 790.4L630.8 791.1L635.1 791.3L639.6 786.3L644.1 783.2L648.5 783.9L650.0 782.7L657.2 776.4L661.9 778.2L666.4 778.2L670.3 786.6L674.8 789.0L679.3 799.2L683.8 797.1L688.1 796.2L692.6 791.7L697.1 790.8L701.6 789.9L706.1 786.6L710.5 781.2L715.0 782.3L718.9 778.2L723.8 783.2L728.3 780.5L732.8 779.4L737.3 781.4L741.8 781.8L746.4 782.7L750.8 783.0L755.3 781.8L759.8 782.3L764.2 778.2L768.7 773.1L773.2 771.0L777.7 770.6L782.2 772.4L786.4 772.8L791.1 782.7L795.4 782.3L799.9 779.4L804.4 780.5L808.3 781.4L813.2 777.6L817.7 776.4L822.2 770.4L826.7 767.9L831.0 764.2L835.5 762.5L840.0 759.3L844.5 760.7L848.8 759.3L853.3 760.6L857.8 756.1L862.3 754.3L866.6 751.6L871.1 750.7L875.6 758.9L880.1 766.5L884.4 766.0L888.9 762.0L893.4 757.9L897.4 755.7L901.9 771.9L906.4 769.2L911.2 766.1L915.7 767.9L920.2 769.2L924.6 768.3L929.1 767.7L933.6 773.3L937.9 779.4L942.4 774.9L946.5 774.0L950.8 782.7L955.3 790.8L959.8 790.4L964.3 790.2L968.6 788.1L973.6 789.9L978.1 790.4L982.6 790.2L987.1 791.3L991.4 792.6L995.9 788.6L1000.4 785.0L1004.9 781.8L1009.2 779.6L1013.7 778.2L1018.2 778.5L1022.2 776.7L1027.0 782.3L1031.5 781.4L1035.5 785.9L1040.5 781.4L1044.8 776.7L1049.3 773.1L1053.8 774.0L1058.3 773.3L1062.8 772.2L1067.2 770.6L1071.7 779.1L1076.2 780.5L1080.5 786.8L1085.0 787.2L1089.5 789.5L1093.4 785.9L1098.3 788.4L1102.8 792.6L1107.3 791.7L1111.8 795.8L1116.1 794.7L1120.6 790.4L1125.1 790.8L1129.4 792.9L1133.9 793.5L1138.4 792.9L1142.9 793.1L1147.2 789.0L1151.7 783.6L1156.2 784.1L1160.7 788.4L1165.2 790.4L1169.5 790.8L1174.0 792.0L1178.5 795.3L1183.0 797.6L1187.3 798.5L1191.8 799.2L1196.3 798.5L1200.8 801.9L1205.2 805.2L1209.7 804.3L1214.2 805.5L1218.7 802.8L1223.0 802.1L1227.5 799.2L1232.0 798.0L1236.5 798.0L1240.4 796.2L1245.3 798.9L1249.8 801.2L1254.3 800.3L1258.2 796.5L1263.1 798.9L1267.6 799.4L1272.1 798.9L1276.4 798.0L1280.9 798.0L1285.4 797.4L1288.8 797.6" stroke="#7e7e8a" stroke-width="1" fill="none" stroke-linejoin="round" stroke-linecap="round"/>
<text x="468" y="479" font-size="12" fill="#000" text-anchor="start" font-weight="normal" font-style="italic" stroke="#000" stroke-width="0.3" letter-spacing="0.1">ATH 2017</text>
<text x="975" y="566.8" font-size="12" fill="#000" text-anchor="start" font-weight="normal" font-style="italic" stroke="#000" stroke-width="0.3" letter-spacing="0.08">Ascending Line</text>
<text transform="translate(1417.5 244.3) scale(0.963 1)" font-size="12.2" fill="#131722" text-anchor="start" font-weight="normal" font-style="normal" >0.618(49352.77)</text>
<text transform="translate(1417.5 295.3) scale(0.963 1)" font-size="12.2" fill="#131722" text-anchor="start" font-weight="normal" font-style="normal" >0.5(43283.73)</text>
<text transform="translate(1417.5 345.3) scale(0.963 1)" font-size="12.2" fill="#131722" text-anchor="start" font-weight="normal" font-style="normal" >0.382(37214.68)</text>
<text transform="translate(1417.5 407.3) scale(0.963 1)" font-size="12.2" fill="#131722" text-anchor="start" font-weight="normal" font-style="normal" >0.236(29705.53)</text>
<text transform="translate(1417.5 523.3) scale(0.963 1)" font-size="12.2" fill="#ff9800" text-anchor="start" font-weight="normal" font-style="normal" >1.272(15680.23)</text>
<text transform="translate(1417.5 545.3) scale(0.963 1)" font-size="12.2" fill="#ff9800" text-anchor="start" font-weight="normal" font-style="normal" >1.618(13103.10)</text>
<clipPath id="cpm"><rect x="1754" y="52" width="70" height="634"/></clipPath>
<g clip-path="url(#cpm)"><text transform="translate(1764 687.0) scale(0.967 1)" font-size="12" fill="#131722" text-anchor="start" font-weight="normal" font-style="normal" >−4000.00</text><text transform="translate(1764 653.1) scale(0.967 1)" font-size="12" fill="#131722" text-anchor="start" font-weight="normal" font-style="normal" >0.00</text><text transform="translate(1764 620.0) scale(0.967 1)" font-size="12" fill="#131722" text-anchor="start" font-weight="normal" font-style="normal" >4000.00</text><text transform="translate(1764 587.0) scale(0.967 1)" font-size="12" fill="#131722" text-anchor="start" font-weight="normal" font-style="normal" >8000.00</text><text transform="translate(1764 553.9) scale(0.967 1)" font-size="12" fill="#131722" text-anchor="start" font-weight="normal" font-style="normal" >12000.00</text><text transform="translate(1764 520.8) scale(0.967 1)" font-size="12" fill="#131722" text-anchor="start" font-weight="normal" font-style="normal" >16000.00</text><text transform="translate(1764 421.6) scale(0.967 1)" font-size="12" fill="#131722" text-anchor="start" font-weight="normal" font-style="normal" >28000.00</text><text transform="translate(1764 388.5) scale(0.967 1)" font-size="12" fill="#131722" text-anchor="start" font-weight="normal" font-style="normal" >32000.00</text><text transform="translate(1764 355.5) scale(0.967 1)" font-size="12" fill="#131722" text-anchor="start" font-weight="normal" font-style="normal" >36000.00</text><text transform="translate(1764 322.4) scale(0.967 1)" font-size="12" fill="#131722" text-anchor="start" font-weight="normal" font-style="normal" >40000.00</text><text transform="translate(1764 289.3) scale(0.967 1)" font-size="12" fill="#131722" text-anchor="start" font-weight="normal" font-style="normal" >44000.00</text><text transform="translate(1764 256.3) scale(0.967 1)" font-size="12" fill="#131722" text-anchor="start" font-weight="normal" font-style="normal" >48000.00</text><text transform="translate(1764 223.2) scale(0.967 1)" font-size="12" fill="#131722" text-anchor="start" font-weight="normal" font-style="normal" >52000.00</text><text transform="translate(1764 190.1) scale(0.967 1)" font-size="12" fill="#131722" text-anchor="start" font-weight="normal" font-style="normal" >56000.00</text><text transform="translate(1764 157.0) scale(0.967 1)" font-size="12" fill="#131722" text-anchor="start" font-weight="normal" font-style="normal" >60000.00</text><text transform="translate(1764 124.0) scale(0.967 1)" font-size="12" fill="#131722" text-anchor="start" font-weight="normal" font-style="normal" >64000.00</text><text transform="translate(1764 90.9) scale(0.967 1)" font-size="12" fill="#131722" text-anchor="start" font-weight="normal" font-style="normal" >68000.00</text><text transform="translate(1764 57.8) scale(0.967 1)" font-size="12" fill="#70737e" text-anchor="start" font-weight="normal" font-style="normal" >72000.00</text></g>
<text transform="translate(1764 45.2) scale(0.86 1)" font-size="12" fill="#131722" text-anchor="start" font-weight="normal" font-style="normal" >USD</text>
<clipPath id="cpv"><rect x="1754" y="687" width="70" height="56"/></clipPath>
<g clip-path="url(#cpv)"><text transform="translate(1764 713.8) scale(0.967 1)" font-size="12" fill="#131722" text-anchor="start" font-weight="normal" font-style="normal" >250K</text></g>
<text transform="translate(1764 767.3) scale(0.967 1)" font-size="12" fill="#131722" text-anchor="start" font-weight="normal" font-style="normal" >80.00</text>
<path d="M1754 70H1817a2 2 0 0 1 2 2V84.8a2 2 0 0 1 -2 2H1754z" fill="#2962ff"/><text transform="translate(1764 82.7) scale(0.967 1)" font-size="12" fill="#fff" text-anchor="start" font-weight="normal" font-style="normal" stroke="#fff" stroke-width="0.35" >69000.00</text>
<path d="M1754 398.2H1817a2 2 0 0 1 2 2V413a2 2 0 0 1 -2 2H1754z" fill="#2962ff"/><text transform="translate(1764 410.9) scale(0.967 1)" font-size="12" fill="#fff" text-anchor="start" font-weight="normal" font-style="normal" stroke="#fff" stroke-width="0.35" >29336.40</text>
<path d="M1754 430H1817a2 2 0 0 1 2 2V444.8a2 2 0 0 1 -2 2H1754z" fill="#2962ff"/><text transform="translate(1764 442.7) scale(0.967 1)" font-size="12" fill="#fff" text-anchor="start" font-weight="normal" font-style="normal" stroke="#fff" stroke-width="0.35" >25054.10</text>
<path d="M1754 446.8H1817a2 2 0 0 1 2 2V461.6a2 2 0 0 1 -2 2H1754z" fill="#ff9800"/><text transform="translate(1764 459.5) scale(0.967 1)" font-size="12" fill="#000" text-anchor="start" font-weight="normal" font-style="normal" stroke="#000" stroke-width="0.15" >22478.81</text>
<path d="M1754 463.6H1817a2 2 0 0 1 2 2V478.4a2 2 0 0 1 -2 2H1754z" fill="#ff9800"/><text transform="translate(1764 476.3) scale(0.967 1)" font-size="12" fill="#000" text-anchor="start" font-weight="normal" font-style="normal" stroke="#000" stroke-width="0.15" >19891.99</text>
<path d="M1754 497.2H1817a2 2 0 0 1 2 2V512a2 2 0 0 1 -2 2H1754z" fill="#ff9800"/><text transform="translate(1764 509.9) scale(0.967 1)" font-size="12" fill="#000" text-anchor="start" font-weight="normal" font-style="normal" stroke="#000" stroke-width="0.15" >17567.45</text>
<path d="M1754 480.4H1817a2 2 0 0 1 2 2V495.2a2 2 0 0 1 -2 2H1754z" fill="#f23645"/><text transform="translate(1764 493.1) scale(0.967 1)" font-size="12" fill="#fff" text-anchor="start" font-weight="normal" font-style="normal" stroke="#fff" stroke-width="0.35" >19434.09</text>
<path d="M1754 710.4H1818a2 2 0 0 1 2 2V725a2 2 0 0 1 -2 2H1754z" fill="#2962ff"/><text transform="translate(1764 723.0) scale(0.967 1)" font-size="12" fill="#fff" text-anchor="start" font-weight="normal" font-style="normal" stroke="#fff" stroke-width="0.35" >162.939K</text>
<path d="M1754 727H1805a2 2 0 0 1 2 2V741.4a2 2 0 0 1 -2 2H1754z" fill="#ef5350"/><text transform="translate(1764 739.5) scale(0.967 1)" font-size="12" fill="#fff" text-anchor="start" font-weight="normal" font-style="normal" stroke="#fff" stroke-width="0.35" >3.542K</text>
<path d="M1754 790.4H1798a2 2 0 0 1 2 2V804.6a2 2 0 0 1 -2 2H1754z" fill="#9598a1"/><text transform="translate(1764 802.8) scale(0.967 1)" font-size="12" fill="#131722" text-anchor="start" font-weight="normal" font-style="normal" stroke="#131722" stroke-width="0.15" >35.30</text>
<text x="38.1" y="829.9" font-size="11.8" fill="#131722" text-anchor="middle" font-weight="normal" font-style="normal" >Jun</text>
<text x="172.1" y="829.9" font-size="12.3" fill="#131722" text-anchor="middle" font-weight="normal" font-style="normal" stroke="#131722" stroke-width="0.55" >2018</text>
<text x="252.1" y="829.9" font-size="11.8" fill="#131722" text-anchor="middle" font-weight="normal" font-style="normal" >May</text>
<text x="408.1" y="829.9" font-size="12.3" fill="#131722" text-anchor="middle" font-weight="normal" font-style="normal" stroke="#131722" stroke-width="0.55" >2019</text>
<text x="501.1" y="829.9" font-size="11.8" fill="#131722" text-anchor="middle" font-weight="normal" font-style="normal" >Jun</text>
<text x="639.1" y="829.9" font-size="12.3" fill="#131722" text-anchor="middle" font-weight="normal" font-style="normal" stroke="#131722" stroke-width="0.55" >2020</text>
<text x="733.1" y="829.9" font-size="11.8" fill="#131722" text-anchor="middle" font-weight="normal" font-style="normal" >Jun</text>
<text x="871.1" y="829.9" font-size="12.3" fill="#131722" text-anchor="middle" font-weight="normal" font-style="normal" stroke="#131722" stroke-width="0.55" >2021</text>
<text x="969.1" y="829.9" font-size="11.8" fill="#131722" text-anchor="middle" font-weight="normal" font-style="normal" >Jun</text>
<text x="1102.1" y="829.9" font-size="12.3" fill="#131722" text-anchor="middle" font-weight="normal" font-style="normal" stroke="#131722" stroke-width="0.55" >2022</text>
<text x="1200.1" y="829.9" font-size="11.8" fill="#131722" text-anchor="middle" font-weight="normal" font-style="normal" >Jun</text>
<text x="1334.1" y="829.9" font-size="12.3" fill="#131722" text-anchor="middle" font-weight="normal" font-style="normal" stroke="#131722" stroke-width="0.55" >2023</text>
<text x="1432.1" y="829.9" font-size="11.8" fill="#131722" text-anchor="middle" font-weight="normal" font-style="normal" >Jun</text>
<text x="1565.1" y="829.9" font-size="12.3" fill="#131722" text-anchor="middle" font-weight="normal" font-style="normal" stroke="#131722" stroke-width="0.55" >2024</text>
<text x="1645.1" y="829.9" font-size="11.8" fill="#131722" text-anchor="middle" font-weight="normal" font-style="normal" >May</text>
<path d="M10 852H18V861.8H13.9V856.2H10z" fill="#1e222d"/>
<circle cx="21.05" cy="853.85" r="1.75" fill="#1e222d"/>
<path d="M24.1 852H29.85L26 861.8H21.4z" fill="#1e222d"/>
<text x="32.7" y="861.8" font-size="12.8" fill="#1e222d" text-anchor="start" font-weight="normal" font-style="normal" >TradingView</text></svg>
</body></html>
